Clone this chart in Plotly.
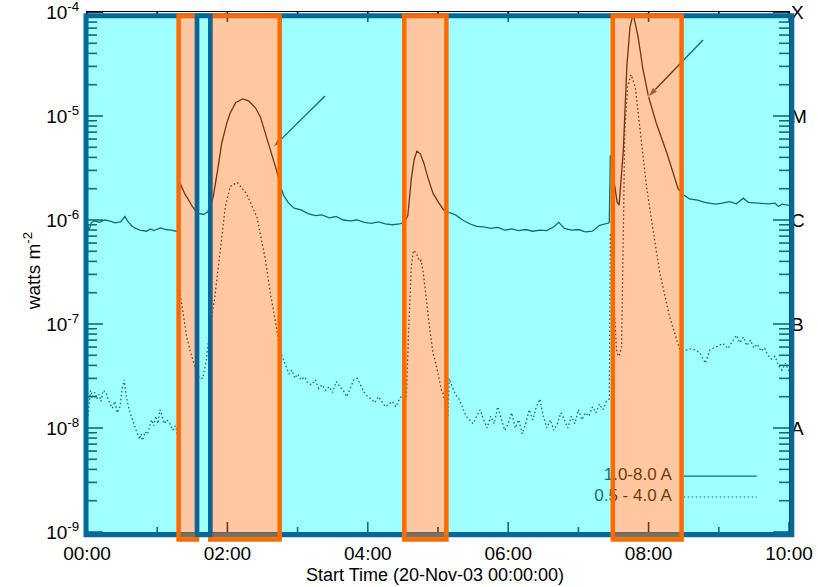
import plotly.graph_objects as go

# ---------------- data (time in hours after 20-Nov-03 00:00, flux in W m^-2) -------------
long_t = [0.00, 0.03, 0.06, 0.10, 0.18, 0.25, 0.32, 0.40, 0.48, 0.54, 0.58, 0.65, 0.75, 0.85,
          0.90, 0.95, 1.05, 1.12, 1.20, 1.27, 1.30,
          1.32, 1.36, 1.40, 1.45, 1.50, 1.55, 1.60, 1.66, 1.72, 1.78, 1.80, 1.86, 1.92, 1.99,
          2.04, 2.12, 2.22, 2.30, 2.40, 2.47, 2.55, 2.62, 2.70, 2.75, 2.80, 2.87, 2.95, 3.05,
          3.15, 3.25, 3.35, 3.45, 3.55, 3.65, 3.75, 3.85, 3.95, 4.05, 4.15, 4.25, 4.35, 4.45,
          4.52, 4.57, 4.62, 4.66, 4.70, 4.75, 4.80, 4.86, 4.93, 5.00, 5.08, 5.13, 5.18, 5.25,
          5.35, 5.45, 5.55, 5.65, 5.75, 5.85, 5.95, 6.05, 6.15, 6.25, 6.35, 6.45, 6.55, 6.65,
          6.72, 6.80, 6.90, 7.00, 7.10, 7.20, 7.30, 7.38, 7.44, 7.455,
          7.52, 7.55, 7.58, 7.64, 7.69, 7.735, 7.78, 7.85, 7.92, 8.00, 8.11, 8.26, 8.42,
          8.50, 8.58, 8.70, 8.80, 8.95, 9.05, 9.15, 9.25, 9.35, 9.42, 9.55, 9.70, 9.80,
          9.85, 9.90, 10.00]
long_f = [9.2e-7, 8.0e-7, 9.4e-7, 9.8e-7, 9.5e-7, 1.0e-6, 9.8e-7, 9.4e-7, 9.6e-7, 1.08e-6,
          9.7e-7, 8.6e-7, 8.0e-7, 7.8e-7, 8.2e-7, 7.9e-7, 8.4e-7, 8.1e-7, 8.0e-7, 7.8e-7, 8.0e-7,
          2.3e-6, 2.0e-6, 1.75e-6, 1.55e-6, 1.35e-6, 1.22e-6, 1.15e-6, 1.13e-6, 1.2e-6, 1.5e-6,
          1.7e-6, 3.0e-6, 5.5e-6, 8.5e-6,
          1.07e-5, 1.35e-5, 1.46e-5, 1.4e-5, 1.2e-5, 9.8e-6, 6.6e-6, 4.5e-6, 3.0e-6, 2.2e-6,
          1.73e-6, 1.46e-6, 1.3e-6, 1.25e-6,
          1.15e-6, 1.1e-6, 1.12e-6, 1.05e-6, 1.08e-6, 1.0e-6, 9.8e-7, 1.0e-6, 9.5e-7, 9.3e-7,
          9.6e-7, 9.2e-7, 9.0e-7, 9.2e-7,
          9.5e-7, 1.1e-6, 2.5e-6, 3.8e-6, 4.6e-6, 4.3e-6, 3.5e-6, 2.5e-6, 1.8e-6, 1.5e-6,
          1.25e-6, 1.2e-6, 1.17e-6, 1.12e-6,
          1.0e-6, 9.2e-7, 8.7e-7, 8.6e-7, 8.3e-7, 8.5e-7, 8.0e-7, 8.2e-7, 7.9e-7, 8.1e-7,
          7.8e-7, 8.0e-7, 7.9e-7, 8.6e-7,
          9.5e-7, 8.3e-7, 8.0e-7, 8.1e-7, 7.7e-7, 7.8e-7, 8.9e-7, 9.2e-7, 9.4e-7, 4.2e-6,
          2.1e-6, 1.5e-6, 1.39e-6, 4.7e-6, 3.0e-5, 7.2e-5, 9.6e-5, 5.8e-5, 2.8e-5, 1.53e-5,
          8.5e-6, 4.4e-6, 2.0e-6,
          1.74e-6, 1.6e-6, 1.55e-6, 1.48e-6, 1.42e-6, 1.45e-6, 1.5e-6, 1.43e-6, 1.62e-6,
          1.48e-6, 1.45e-6, 1.43e-6, 1.45e-6,
          1.35e-6, 1.42e-6, 1.38e-6]

short_t = [0.00, 0.02, 0.05, 0.08, 0.11, 0.14, 0.17, 0.20, 0.23, 0.27, 0.30, 0.33, 0.36, 0.40,
           0.43, 0.47, 0.50, 0.53, 0.56, 0.60, 0.63, 0.66, 0.70, 0.73, 0.75, 0.77, 0.79, 0.81,
           0.83, 0.86, 0.89, 0.92, 0.95, 0.98, 1.01, 1.04, 1.07, 1.10, 1.14, 1.18, 1.22, 1.26,
           1.29,
           1.32, 1.36, 1.42, 1.47, 1.51, 1.55, 1.60, 1.65, 1.70, 1.74, 1.82, 1.895, 1.97,
           2.04, 2.14, 2.27, 2.42, 2.54, 2.61, 2.68, 2.75,
           2.80, 2.84, 2.88, 2.92, 2.96, 3.00, 3.05, 3.10, 3.15, 3.20, 3.25, 3.30, 3.35, 3.40,
           3.45, 3.50, 3.55, 3.60, 3.65, 3.70, 3.75, 3.80, 3.85, 3.90, 3.95, 4.00, 4.05, 4.10,
           4.15, 4.20, 4.25, 4.30, 4.35, 4.40, 4.45, 4.50,
           4.55, 4.58, 4.62, 4.65, 4.69, 4.74, 4.76, 4.79, 4.84, 4.89, 4.93, 4.98, 5.05, 5.07,
           5.14, 5.16, 5.20, 5.25, 5.30, 5.35, 5.40, 5.45, 5.50, 5.55,
           5.60, 5.65, 5.70, 5.75, 5.80, 5.85, 5.90, 5.95, 6.00, 6.05, 6.10, 6.15, 6.20, 6.25,
           6.30, 6.35, 6.40, 6.45, 6.50, 6.55, 6.60, 6.65, 6.70, 6.75, 6.80, 6.85, 6.90, 6.95,
           7.00, 7.05, 7.10, 7.15, 7.20, 7.25, 7.30, 7.35, 7.40, 7.44,
           7.455, 7.52, 7.545, 7.58, 7.615, 7.64, 7.66, 7.70, 7.75, 7.81, 7.85, 7.90, 7.97,
           8.07, 8.16, 8.30, 8.44, 8.48,
           8.54, 8.62, 8.73, 8.81, 8.87, 8.97, 9.06, 9.13, 9.20, 9.25, 9.30, 9.35, 9.40, 9.45,
           9.50, 9.55, 9.60, 9.65, 9.70, 9.75, 9.80, 9.85, 9.90, 9.95, 10.00]
short_f = [1.1e-8, 1.4e-8, 2.3e-8, 2.0e-8, 2.2e-8, 1.9e-8, 2.1e-8, 1.8e-8, 2.3e-8, 2.2e-8,
           1.9e-8, 1.7e-8, 1.55e-8, 1.8e-8, 1.4e-8, 1.6e-8, 2.4e-8, 2.9e-8, 2.0e-8, 1.5e-8,
           1.3e-8, 1.1e-8, 9.5e-9, 8.5e-9, 7.8e-9, 8.8e-9, 7.6e-9, 8.4e-9, 9.2e-9, 8.7e-9,
           1.05e-8, 1.2e-8, 1.05e-8, 1.3e-8, 1.1e-8, 1.5e-8, 1.3e-8, 1.1e-8, 1.2e-8, 1.1e-8,
           9.5e-9, 1.05e-8, 8.5e-9,
           2.1e-7, 1.4e-7, 7.5e-8, 5.5e-8, 4.5e-8, 3.6e-8, 3.0e-8, 3.0e-8, 4.5e-8, 8.0e-8,
           1.8e-7, 5.1e-7, 1.33e-6,
           2.1e-6, 2.3e-6, 1.8e-6, 1.07e-6, 4.2e-7, 2.0e-7, 1.1e-7, 5.6e-8,
           4.5e-8, 3.8e-8, 3.3e-8, 3.6e-8, 3.0e-8, 3.3e-8, 2.9e-8, 3.1e-8, 2.7e-8, 2.6e-8,
           2.9e-8, 2.4e-8, 2.6e-8, 2.3e-8, 2.5e-8, 2.2e-8, 2.8e-8, 2.5e-8, 2.3e-8, 2.0e-8,
           2.4e-8, 2.9e-8, 3.0e-8, 2.6e-8, 2.2e-8, 2.0e-8, 1.9e-8, 1.75e-8, 2.0e-8, 1.8e-8,
           1.6e-8, 1.7e-8, 1.8e-8, 1.6e-8, 1.9e-8, 2.1e-8,
           2.0e-8, 8.2e-8, 3.6e-7, 5.1e-7, 4.8e-7, 4.0e-7, 4.1e-7, 3.1e-7, 1.5e-7, 8.2e-8,
           5.2e-8, 3.9e-8, 2.3e-8, 2.2e-8,
           1.3e-8, 3.0e-8, 2.5e-8, 2.1e-8, 1.9e-8, 1.6e-8, 1.3e-8, 1.2e-8, 1.1e-8, 1.3e-8,
           1.5e-8, 1.2e-8, 1.0e-8, 1.3e-8, 1.1e-8, 1.6e-8, 1.2e-8, 9.5e-9, 1.1e-8, 1.4e-8,
           1.0e-8, 1.2e-8, 8.8e-9, 1.1e-8, 1.5e-8, 1.2e-8, 1.6e-8, 1.9e-8, 1.3e-8, 1.0e-8,
           1.2e-8, 9.5e-9, 1.1e-8, 1.4e-8, 1.2e-8, 1.0e-8, 1.3e-8, 1.1e-8,
           1.5e-8, 1.2e-8, 1.4e-8, 1.3e-8, 1.6e-8, 1.4e-8, 1.7e-8, 1.5e-8, 1.8e-8, 1.9e-8,
           7.5e-7, 1.0e-7, 5.3e-8, 4.9e-8, 6.0e-8, 7.5e-7, 6.9e-6, 1.9e-5, 2.5e-5, 1.9e-5,
           1.07e-5, 5.9e-6, 2.1e-6, 7.5e-7, 3.1e-7, 1.17e-7, 5.8e-8, 5.5e-8,
           5.6e-8, 5.8e-8, 5.3e-8, 4.2e-8, 5.6e-8, 6.0e-8, 6.5e-8, 5.8e-8, 6.8e-8, 7.8e-8,
           6.6e-8, 7.5e-8, 6.2e-8, 7.0e-8, 5.9e-8, 6.4e-8, 5.5e-8, 5.9e-8, 5.0e-8, 4.6e-8,
           4.9e-8, 4.0e-8, 3.6e-8, 4.2e-8, 3.5e-8]

x_tick_vals = [0, 2, 4, 6, 8, 10]
x_tick_text = ["00:00", "02:00", "04:00", "06:00", "08:00", "10:00"]
x_minor_vals = [1, 3, 5, 7, 9]
y_tick_vals = [1e-9, 1e-8, 1e-7, 1e-6, 1e-5, 1e-4]
y_tick_text = ["10<sup>-9</sup>", "10<sup>-8</sup>", "10<sup>-7</sup>",
               "10<sup>-6</sup>", "10<sup>-5</sup>", "10<sup>-4</sup>"]
y_minor_vals = [k * 10.0 ** e for e in range(-9, -4) for k in range(2, 10)]
class_vals = [1e-8, 1e-7, 1e-6, 1e-5, 1e-4]
class_text = ["A", "B", "C", "M", "X"]

flare_windows = [(1.305, 1.567), (1.756, 2.745), (4.52, 5.12), (7.49, 8.47)]
quiet_window = (1.567, 1.756)

arrow_tails = [(3.39, 1.56e-5), (8.775, 5.38e-5)]
arrow_tips = [(2.65, 5.0e-6), (7.99, 1.52e-5)]

legend_labels = ["1.0-8.0 A", "0.5 - 4.0 A"]
legend_levels = [3.45e-9, 2.17e-9]
legend_text_x = 8.33
legend_line_x = [8.50, 9.54]

# ---------------- styles -------------
FONT = "Liberation Sans, Arial, Helvetica, sans-serif"
CYAN_OVER = "rgba(35,255,255,0.43)"
ORANGE_OVER = "rgba(255,127,35,0.43)"
ORANGE_EDGE = "#FF6A00"
BLUE_EDGE = "#06679A"
DOT = "1.5px,2.5px"
X_MIN, X_MAX = 0, 10

fig = go.Figure()

fig.add_trace(go.Scatter(x=long_t, y=long_f, mode="lines",
                         line=dict(color="black", width=1.3), showlegend=False))
fig.add_trace(go.Scatter(x=short_t, y=short_f, mode="lines",
                         line=dict(color="black", width=1.3, dash=DOT), showlegend=False))

for (t0, f0), (t1, f1) in zip(arrow_tails, arrow_tips):
    fig.add_trace(go.Scatter(x=[t0, t1], y=[f0, f1], mode="lines+markers",
                             line=dict(color="black", width=1.3),
                             marker=dict(symbol=["circle", "arrow"], size=[0, 11],
                                         angleref="previous", color="black"),
                             showlegend=False))

for lab, lev, d in zip(legend_labels, legend_levels, ["solid", DOT]):
    fig.add_trace(go.Scatter(x=legend_line_x, y=[lev, lev], mode="lines", yaxis="y2",
                             line=dict(color="black", width=1.2, dash=d), showlegend=False))
    fig.add_trace(go.Scatter(x=[legend_text_x], y=[lev], mode="text", text=[lab], yaxis="y2",
                             textposition="middle left",
                             textfont=dict(family=FONT, size=17, color="black"),
                             showlegend=False))

shapes = []
# ---------------- tick marks (under the colour overlay) -------------
TICK = dict(color="black", width=1.6)
for vals, ln in ((y_tick_vals, 16), (y_minor_vals, 10)):
    for v in vals:
        shapes.append(dict(type="line", xref="x", xsizemode="pixel", xanchor=X_MIN, x0=0, x1=ln,
                           yref="y", y0=v, y1=v, line=TICK, layer="below"))
        shapes.append(dict(type="line", xref="x", xsizemode="pixel", xanchor=X_MAX, x0=-ln, x1=0,
                           yref="y", y0=v, y1=v, line=TICK, layer="below"))
for vals, ln in ((x_tick_vals, 10), (x_minor_vals, 5)):
    for v in vals:
        shapes.append(dict(type="line", xref="x", x0=v, x1=v, yref="paper", ysizemode="pixel",
                           yanchor=0, y0=0, y1=ln, line=TICK, layer="below"))
        shapes.append(dict(type="line", xref="x", x0=v, x1=v, yref="paper", ysizemode="pixel",
                           yanchor=1, y0=-ln, y1=0, line=TICK, layer="below"))

# ---------------- overlays -------------
Y_TOP = 0.9929
Y_BOT = -0.0052
Y_BOT_OR = -0.0145
edges = [-0.1]
for a, b in flare_windows:
    edges += [a, b]
edges.append(10.1)
for i in range(0, len(edges), 2):
    shapes.append(dict(type="rect", xref="x", yref="paper", x0=edges[i], x1=edges[i + 1],
                       y0=Y_BOT, y1=Y_TOP, fillcolor=CYAN_OVER, line=dict(width=0),
                       layer="above"))
shapes.append(dict(type="rect", xref="paper", yref="paper", x0=-0.0014, x1=1.004,
                   y0=Y_BOT, y1=Y_TOP, line=dict(color=BLUE_EDGE, width=5), layer="above"))
for a, b in flare_windows:
    shapes.append(dict(type="rect", xref="x", yref="paper", x0=a, x1=b, y0=Y_BOT_OR, y1=Y_TOP,
                       fillcolor=ORANGE_OVER, line=dict(color=ORANGE_EDGE, width=4.5),
                       layer="above"))
shapes.append(dict(type="rect", xref="x", yref="paper", x0=quiet_window[0], x1=quiet_window[1],
                   y0=Y_BOT, y1=Y_TOP, line=dict(color=BLUE_EDGE, width=4.5), layer="above"))

common = dict(showgrid=False, zeroline=False, automargin=False, ticks="",
              ticklabeloverflow="allow")

fig.update_layout(
    width=818, height=587,
    margin=dict(l=87, r=29, t=12, b=55, autoexpand=False),
    paper_bgcolor="white", plot_bgcolor="rgba(0,0,0,0)",
    font=dict(family=FONT, size=19, color="black"),
    shapes=shapes,
    xaxis=dict(range=[X_MIN, X_MAX], tickmode="array", tickvals=x_tick_vals,
               ticktext=x_tick_text, showline=True, linecolor="black", linewidth=1,
               mirror=True, tickfont=dict(size=19), ticklabelstandoff=4, **common),
    yaxis=dict(type="log", range=[-9, -4], tickmode="array", tickvals=y_tick_vals,
               ticktext=y_tick_text, showline=True, linecolor="black", linewidth=1,
               mirror=True, tickfont=dict(size=19), ticklabelstandoff=3, **common),
    yaxis2=dict(type="log", range=[-9, -4], overlaying="y", side="right", anchor="x",
                tickmode="array", tickvals=class_vals, ticktext=class_text,
                showline=False, tickfont=dict(size=19), ticklabelstandoff=1, **common),
    annotations=[
        dict(text="Start Time (20-Nov-03 00:00:00)", xref="paper", yref="paper",
             x=0.496, y=-0.083, xanchor="center", yanchor="middle", showarrow=False,
             font=dict(size=18)),
        dict(text="watts m<sup>-2</sup>", xref="paper", yref="paper", x=-0.078, y=0.502,
             xanchor="center", yanchor="middle", textangle=-90, showarrow=False,
             font=dict(size=19)),
    ],
)

fig.write_html("out.html")
